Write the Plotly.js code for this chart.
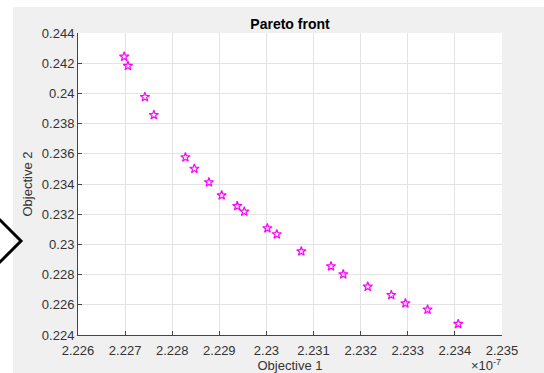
<!DOCTYPE html>
<html>
<head>
<meta charset="utf-8">
<script src="https://cdn.plot.ly/plotly-3.0.1.min.js"></script>
<style>html,body{margin:0;padding:0;background:#fff;}#chart{width:544px;height:373px;}</style>
</head>
<body>
<div id="chart"></div>
<script>
// Objective 1 values (real units, ×1e-7 on axis)
const objective1 = [
  2.22698e-7, 2.22706e-7, 2.22742e-7, 2.22761e-7, 2.22828e-7, 2.22847e-7,
  2.22878e-7, 2.22905e-7, 2.22938e-7, 2.22953e-7, 2.23002e-7, 2.23022e-7,
  2.23074e-7, 2.23137e-7, 2.23163e-7, 2.23215e-7, 2.23265e-7, 2.23295e-7,
  2.23342e-7, 2.23407e-7
];
const objective2 = [
  0.24243, 0.24182, 0.23976, 0.23857, 0.23577, 0.23501,
  0.23411, 0.23325, 0.23254, 0.23217, 0.23107, 0.23067,
  0.22954, 0.22855, 0.22802, 0.22720, 0.22665, 0.22610,
  0.22568, 0.22473
];
const xTickLabels = ['2.226','2.227','2.228','2.229','2.23','2.231','2.232','2.233','2.234','2.235'];
const yTickLabels = ['0.224','0.226','0.228','0.23','0.232','0.234','0.236','0.238','0.24','0.242','0.244'];
const xScale = 1e-7;

const FONT = 'Liberation Sans, Arial, sans-serif';
const tickColor = '#333333';

const trace = {
  x: objective1,
  y: objective2,
  mode: 'markers',
  type: 'scatter',
  marker: {symbol: 'star-open', size: 7, color: '#ff00ff', line: {width: 1.2, color: '#ff00ff'}},
  hoverinfo: 'skip'
};

const xTickVals = xTickLabels.map(v => parseFloat(v) * xScale);
const yTickVals = yTickLabels.map(v => parseFloat(v));

const layout = {
  width: 544, height: 373,
  margin: {l: 78, r: 42, t: 33, b: 38},
  paper_bgcolor: '#f0f0f0',
  plot_bgcolor: '#ffffff',
  showlegend: false,
  font: {family: FONT, color: tickColor, size: 13},
  title: {text: '<b>Pareto front</b>', font: {family: FONT, size: 14, color: '#000000'},
          x: 0.5, xref: 'paper', xanchor: 'center', y: 1, yref: 'paper', yanchor: 'bottom', pad: {b: 4}},
  xaxis: {
    range: [xTickVals[0], xTickVals[xTickVals.length - 1]],
    tickvals: xTickVals, ticktext: xTickLabels,
    ticks: 'inside', ticklen: 4, tickcolor: '#444', tickwidth: 1,
    showline: true, linecolor: '#444', linewidth: 1,
    showgrid: true, gridcolor: '#e3e3e3', gridwidth: 1,
    zeroline: false, mirror: false,
    ticklabelstandoff: 3,
    tickfont: {family: FONT, size: 13, color: tickColor},
    title: {text: 'Objective 1', font: {family: FONT, size: 13, color: tickColor}, standoff: 4}
  },
  yaxis: {
    range: [yTickVals[0], yTickVals[yTickVals.length - 1]],
    tickvals: yTickVals, ticktext: yTickLabels,
    ticks: 'inside', ticklen: 4, tickcolor: '#444', tickwidth: 1,
    showline: true, linecolor: '#444', linewidth: 1,
    showgrid: true, gridcolor: '#e3e3e3', gridwidth: 1,
    zeroline: false, mirror: false,
    tickfont: {family: FONT, size: 13, color: tickColor},
    title: {text: 'Objective 2', font: {family: FONT, size: 13, color: tickColor}, standoff: 6}
  },
  shapes: [
    {type: 'rect', xref: 'paper', yref: 'paper', x0: -0.2, x1: (13 - 78) / 424, y0: -0.2, y1: 1.2,
     fillcolor: '#ffffff', line: {width: 0}, layer: 'below'},
    {type: 'rect', xref: 'paper', yref: 'paper', x0: -0.2, x1: 1.2, y0: (335 - 7) / 302, y1: 1.2,
     fillcolor: '#ffffff', line: {width: 0}, layer: 'below'},
    {type: 'path', xref: 'paper', yref: 'paper',
     path: 'M ' + ((-2 - 78) / 424) + ',' + ((335 - 218) / 302) +
           ' L ' + ((21 - 78) / 424) + ',' + ((335 - 241) / 302) +
           ' L ' + ((-2 - 78) / 424) + ',' + ((335 - 264) / 302),
     line: {color: '#000000', width: 3}, layer: 'above'}
  ],
  annotations: [
    {text: '×10<sup>-7</sup>', xref: 'paper', yref: 'paper', x: (469 - 78) / 424, y: (335 - 365) / 302,
     xanchor: 'left', yanchor: 'middle', showarrow: false, font: {family: FONT, size: 13, color: tickColor}}
  ]
};

Plotly.newPlot('chart', [trace], layout, {displayModeBar: false, staticPlot: true});
</script>
</body>
</html>
